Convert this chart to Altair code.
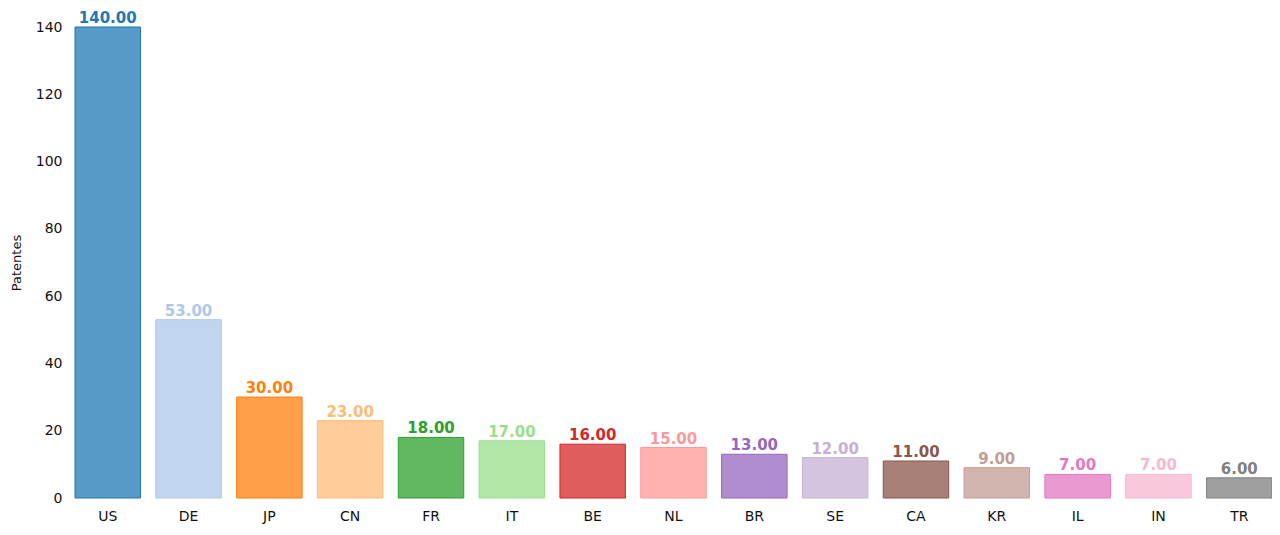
import altair as alt
import pandas as pd

countries = ["US", "DE", "JP", "CN", "FR", "IT", "BE", "NL", "BR", "SE", "CA", "KR", "IL", "IN", "TR"]
patents = [140, 53, 30, 23, 18, 17, 16, 15, 13, 12, 11, 9, 7, 7, 6]
colors = ["#1f77b4", "#aec7e8", "#ff7f0e", "#ffbb78", "#2ca02c", "#98df8a", "#d62728",
          "#ff9896", "#9467bd", "#c5b0d5", "#8c564b", "#c49c94", "#e377c2", "#f7b6d2", "#7f7f7f"]

df = pd.DataFrame({"country": countries, "patents": patents})

FONT = "DejaVu Sans"

x = alt.X("country:N", sort=countries, title=None,
          scale=alt.Scale(paddingInner=0.19, paddingOuter=0),
          axis=alt.Axis(labelAngle=0, ticks=False, domain=False, labelPadding=11,
                        labelFontSize=14, labelFont=FONT, labelColor="#111"))
y = alt.Y("patents:Q", title="Patentes",
          scale=alt.Scale(domain=[0, 140], nice=False),
          axis=alt.Axis(values=[0, 20, 40, 60, 80, 100, 120, 140], grid=False, ticks=False,
                        domain=False, labelPadding=13, labelFontSize=14, labelFont=FONT,
                        labelColor="#111", titleFont=FONT, titleFontSize=13,
                        titleFontWeight="normal", titleColor="#111", titlePadding=12))
color = alt.Color("country:N", sort=countries,
                  scale=alt.Scale(domain=countries, range=colors), legend=None)

bars = alt.Chart(df).mark_bar(fillOpacity=0.75, strokeWidth=1).encode(
    x=x, y=y, fill=color, stroke=color)

labels = alt.Chart(df).mark_text(baseline="alphabetic", dy=-4, fontSize=15, fontWeight="bold",
                                  font=FONT).encode(
    x=x, y=y, color=color, text=alt.Text("patents:Q", format=".2f"))

chart = (bars + labels).properties(
    width=1197, height=471,
    autosize=alt.AutoSizeParams(type="none"),
    padding={"left": 67, "top": 19, "right": 0, "bottom": 29},
).configure_view(stroke=None)

chart.save("out.html", embed_options={"renderer": "svg", "actions": False})
